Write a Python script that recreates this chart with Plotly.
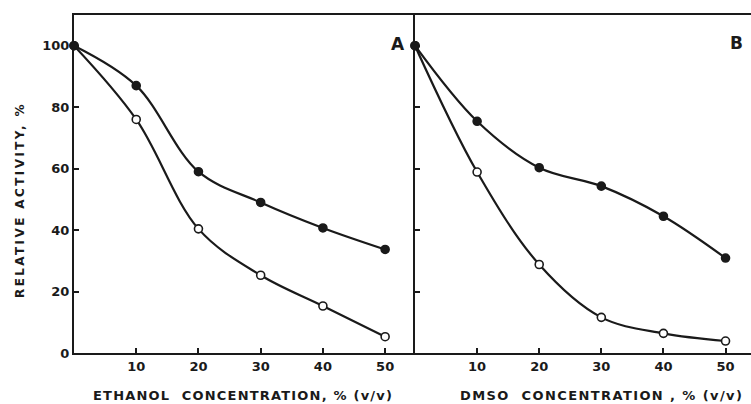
import plotly.graph_objects as go

# Data
conc = [0, 10, 20, 30, 40, 50]
ethanol_filled = [100, 87, 59, 49, 40.7, 33.7]
ethanol_open = [100, 76, 40.4, 25.3, 15.3, 5.3]
dmso_filled = [100, 75.4, 60.3, 54.3, 44.5, 30.9]
dmso_open = [100, 58.9, 28.8, 11.6, 6.4, 3.9]
x_ticks = [10, 20, 30, 40, 50]
y_ticks = [0, 20, 40, 60, 80, 100]

INK = "#1a1a1a"
FONT = "DejaVu Sans"

fig = go.Figure()

def add_series(x, y, filled, xa, ya):
    fig.add_trace(go.Scatter(
        x=x, y=y, mode="lines+markers", xaxis=xa, yaxis=ya,
        line=dict(color=INK, width=2.2, shape="spline", smoothing=1.0),
        marker=dict(size=8,
                    color=INK if filled else "white",
                    line=dict(color=INK, width=1.6)),
        showlegend=False, cliponaxis=False,
    ))

add_series(conc, ethanol_open, False, "x", "y")
add_series(conc, ethanol_filled, True, "x", "y")
add_series(conc, dmso_open, False, "x2", "y2")
add_series(conc, dmso_filled, True, "x2", "y2")

split = (415 - 74) / (751 - 74)
axis_common = dict(showgrid=False, zeroline=False, showline=True, linecolor=INK,
                   linewidth=2, ticks="inside", ticklen=5, tickwidth=1.5, tickcolor=INK,
                   tickfont=dict(family=FONT, size=13, color=INK, weight="bold"))

fig.update_layout(
    width=751, height=404,
    margin=dict(l=74, r=0, t=15, b=51),
    paper_bgcolor="white", plot_bgcolor="white",
    xaxis=dict(domain=[0, split], range=[0, 54.8], tickvals=x_ticks, mirror=True, **axis_common),
    yaxis=dict(range=[0, 110], tickvals=y_ticks, **axis_common),
    xaxis2=dict(domain=[split, 1], range=[0, 54.1], tickvals=x_ticks, anchor="y2", mirror=True, **axis_common),
    yaxis2=dict(range=[0, 110], tickvals=y_ticks, showticklabels=False, anchor="x2", **axis_common),
)

def label(text, x, y, size, angle=0, xref="paper", yref="paper", spacing=0):
    if spacing:
        text = f'<span style="letter-spacing:{spacing}px">{text}</span>'
    fig.add_annotation(text=text, x=x, y=y, xref=xref, yref=yref, textangle=angle,
                       xanchor="center", yanchor="middle", showarrow=False,
                       font=dict(family=FONT, size=size, color=INK, weight="bold"))

label("A", 52.0, 100.5, 17, xref="x", yref="y")
label("B", 51.8, 101, 17, xref="x2", yref="y2")

label("ETHANOL  CONCENTRATION, % (v/v)", (243 - 74) / 677, -(395 - 353) / 338, 13, spacing=1.2)
label("DMSO  CONCENTRATION , % (v/v)", (601 - 74) / 677, -(395 - 353) / 338, 13, spacing=1.4)
label("RELATIVE ACTIVITY, %", -(74 - 20) / 677, (353 - 200) / 338, 12, angle=-90, spacing=2.4)

fig.write_html("out.html", config={"displayModeBar": False},
               post_script="document.body.style.margin='0';")
